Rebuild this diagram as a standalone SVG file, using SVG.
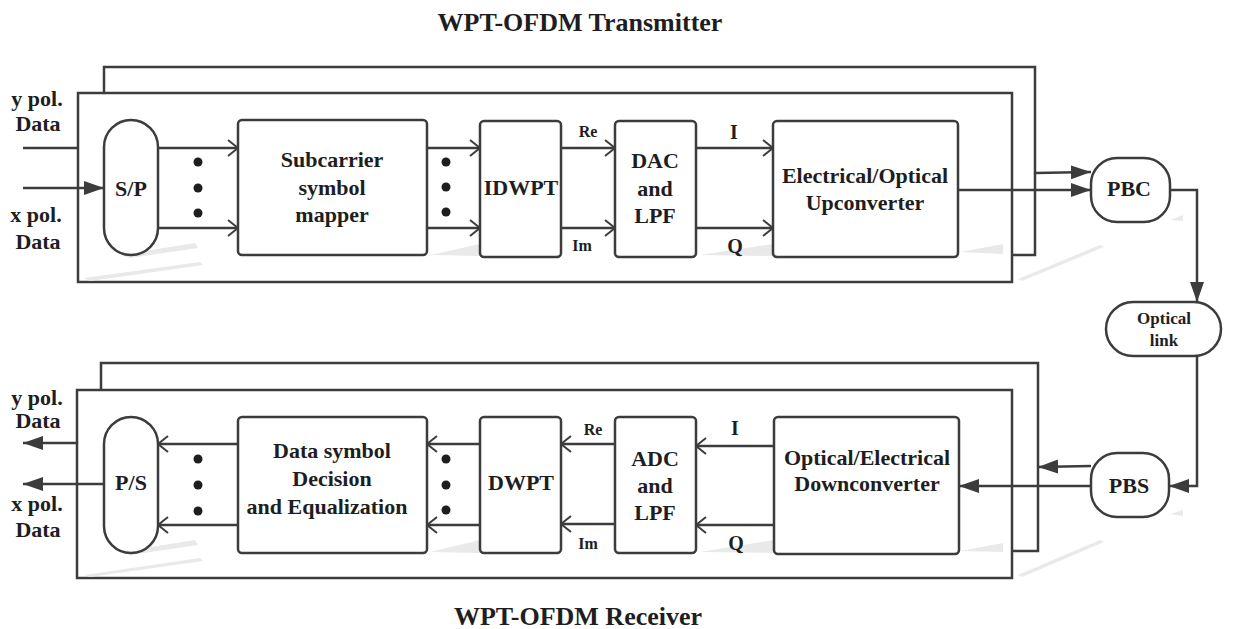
<svg xmlns="http://www.w3.org/2000/svg" width="1234" height="629" viewBox="0 0 1234 629">
<style>
.ln{fill:none;stroke:#3c3c3c;stroke-width:2.5}
.box{fill:#fff;stroke:#3c3c3c;stroke-width:2.5}
.sh{fill:#e9e9e9;stroke:none}
text{font-family:"Liberation Serif","Times New Roman",serif;font-weight:bold;fill:#1e1e1e;text-anchor:middle;dominant-baseline:central}
.t22{font-size:22px}
.t20{font-size:20px}
.t17{font-size:17px}
.t16{font-size:16px}
.t26{font-size:26px}
</style>
<defs>
<marker id="fa" markerUnits="userSpaceOnUse" markerWidth="22" markerHeight="16" refX="20" refY="7" orient="auto"><path d="M0,0 L20,7 L0,14 z" fill="#3c3c3c"/></marker>
<marker id="oa" markerUnits="userSpaceOnUse" markerWidth="14" markerHeight="20" refX="11" refY="9" orient="auto"><path d="M1,1 L11,9 L1,17" fill="none" stroke="#3c3c3c" stroke-width="2"/></marker>
</defs>
<rect width="1234" height="629" fill="#fff"/>

<text class="t26" x="580" y="22">WPT-OFDM Transmitter</text>
<text class="t26" x="578" y="616">WPT-OFDM Receiver</text>

<g id="tx-frames">
<path class="ln" d="M1012,255 L1035,255 L1035,67 L104,67 L104,93"/>
<rect class="box" x="78" y="93" width="934" height="189"/>
<path class="sh" d="M84,278 L200,262 L203,265 L90,281 z"/>
<path class="sh" d="M1018,279 L1100,245 L1104,247 L1022,281 z"/>
</g>
<g id="rx-frames">
<path class="ln" d="M1012,551 L1038,551 L1038,363 L101,363 L101,390"/>
<rect class="box" x="77" y="390" width="935" height="188"/>
<path class="sh" d="M84,575 L200,558 L203,561 L90,577 z"/>
<path class="sh" d="M1018,575 L1100,540 L1104,542 L1022,577 z"/>
</g>

<g id="shadows">
<path class="sh" d="M120,255 L195,243 L198,248 L130,258 z"/>
<path class="sh" d="M430,255 L480,244 L480,256 z"/>
<path class="sh" d="M700,255 L773,244 L773,256 z"/>
<path class="sh" d="M960,252 L1003,244 L1003,254 z"/>
<path class="sh" d="M1170,220 L1183,215 L1183,221 z"/>
<path class="sh" d="M120,552 L195,540 L198,545 L130,555 z"/>
<path class="sh" d="M430,552 L480,540 L480,553 z"/>
<path class="sh" d="M700,552 L774,540 L774,553 z"/>
<path class="sh" d="M960,551 L1003,543 L1003,552 z"/>
<path class="sh" d="M1170,514 L1183,510 L1183,516 z"/>
</g>

<g id="connectors">
<line class="ln" x1="23" y1="148" x2="78" y2="148"/>
<line class="ln" x1="23" y1="188" x2="104" y2="188" marker-end="url(#fa)"/>
<line class="ln" x1="158" y1="148" x2="238" y2="148" marker-end="url(#oa)"/>
<line class="ln" x1="158" y1="228" x2="238" y2="228" marker-end="url(#oa)"/>
<line class="ln" x1="427" y1="148" x2="480" y2="148" marker-end="url(#oa)"/>
<line class="ln" x1="427" y1="228" x2="480" y2="228" marker-end="url(#oa)"/>
<line class="ln" x1="561" y1="148" x2="615" y2="148" marker-end="url(#oa)"/>
<line class="ln" x1="561" y1="228" x2="615" y2="228" marker-end="url(#oa)"/>
<line class="ln" x1="696" y1="148" x2="773" y2="148" marker-end="url(#oa)"/>
<line class="ln" x1="696" y1="228" x2="773" y2="228" marker-end="url(#oa)"/>
<line class="ln" x1="958" y1="190" x2="1091" y2="190" marker-end="url(#fa)"/>
<line class="ln" x1="1035" y1="173" x2="1091" y2="172" marker-end="url(#fa)"/>
<path class="ln" d="M1170,190 L1197,190 L1197,302" marker-end="url(#fa)"/>
<path class="ln" d="M1197,356 L1197,486 L1169,486" marker-end="url(#fa)"/>
<line class="ln" x1="1091" y1="486" x2="959" y2="486" marker-end="url(#fa)"/>
<line class="ln" x1="1091" y1="466" x2="1038" y2="467" marker-end="url(#fa)"/>
<line class="ln" x1="774" y1="446" x2="696" y2="446" marker-end="url(#oa)"/>
<line class="ln" x1="774" y1="525" x2="696" y2="525" marker-end="url(#oa)"/>
<line class="ln" x1="615" y1="444" x2="561" y2="444" marker-end="url(#oa)"/>
<line class="ln" x1="615" y1="524" x2="561" y2="524" marker-end="url(#oa)"/>
<line class="ln" x1="480" y1="444" x2="427" y2="444" marker-end="url(#oa)"/>
<line class="ln" x1="480" y1="525" x2="427" y2="525" marker-end="url(#oa)"/>
<line class="ln" x1="238" y1="444" x2="158" y2="444" marker-end="url(#oa)"/>
<line class="ln" x1="238" y1="525" x2="158" y2="525" marker-end="url(#oa)"/>
<line class="ln" x1="77" y1="443" x2="23" y2="443" marker-end="url(#fa)"/>
<line class="ln" x1="104" y1="484" x2="23" y2="484" marker-end="url(#fa)"/>
</g>

<g id="dots" fill="#1e1e1e">
<circle cx="198" cy="162" r="4.5"/><circle cx="198" cy="188" r="4.5"/><circle cx="198" cy="213" r="4.5"/>
<circle cx="446" cy="162" r="4.5"/><circle cx="446" cy="187" r="4.5"/><circle cx="446" cy="212" r="4.5"/>
<circle cx="198" cy="459" r="4.5"/><circle cx="198" cy="485" r="4.5"/><circle cx="198" cy="511" r="4.5"/>
<circle cx="446" cy="459" r="4.5"/><circle cx="446" cy="485" r="4.5"/><circle cx="446" cy="510" r="4.5"/>
</g>

<g id="labels">
<text class="t22" x="37" y="98">y pol.</text>
<text class="t22" x="38" y="123">Data</text>
<text class="t22" x="36" y="214">x pol.</text>
<text class="t22" x="38" y="241">Data</text>
<text class="t22" x="37" y="397">y pol.</text>
<text class="t22" x="38" y="420">Data</text>
<text class="t22" x="37" y="503">x pol.</text>
<text class="t22" x="38" y="529">Data</text>
<text class="t16" x="588" y="131">Re</text>
<text class="t16" x="582" y="245">Im</text>
<text class="t20" x="734" y="132">I</text>
<text class="t20" x="735" y="246">Q</text>
<text class="t16" x="593" y="429">Re</text>
<text class="t16" x="588" y="543">Im</text>
<text class="t20" x="735" y="428">I</text>
<text class="t20" x="736" y="543">Q</text>
</g>

<g id="sp"><rect class="box" x="104" y="120" width="54" height="135" rx="27" ry="27"/><text class="t22" x="131" y="188">S/P</text></g>
<g id="mapper"><rect class="box" x="238" y="120" width="189" height="135" rx="4"/><text class="t22" x="332" y="159">Subcarrier</text><text class="t22" x="332" y="187">symbol</text><text class="t22" x="332" y="214">mapper</text></g>
<g id="idwpt"><rect class="box" x="480" y="121" width="81" height="136" rx="4"/><text class="t22" x="521" y="187">IDWPT</text></g>
<g id="dac"><rect class="box" x="615" y="121" width="81" height="136" rx="4"/><text class="t22" x="655" y="160">DAC</text><text class="t22" x="655" y="188">and</text><text class="t22" x="655" y="215">LPF</text></g>
<g id="eo"><rect class="box" x="773" y="121" width="185" height="136" rx="4"/><text class="t22" x="865" y="175">Electrical/Optical</text><text class="t22" x="865" y="202">Upconverter</text></g>
<g id="pbc"><rect class="box" x="1091" y="158" width="79" height="64" rx="26" ry="26"/><text class="t22" x="1129" y="188">PBC</text></g>
<g id="optlink"><rect class="box" x="1106" y="302" width="115" height="54" rx="27" ry="27"/><text class="t17" x="1164" y="318">Optical</text><text class="t17" x="1164" y="340">link</text></g>

<g id="ps"><rect class="box" x="104" y="417" width="54" height="136" rx="27" ry="27"/><text class="t22" x="131" y="482">P/S</text></g>
<g id="decision"><rect class="box" x="238" y="417" width="189" height="136" rx="4"/><text class="t22" x="332" y="450">Data symbol</text><text class="t22" x="332" y="478">Decision</text><text class="t22" x="327" y="506">and Equalization</text></g>
<g id="dwpt"><rect class="box" x="480" y="417" width="81" height="136" rx="4"/><text class="t22" x="521" y="482">DWPT</text></g>
<g id="adc"><rect class="box" x="615" y="417" width="81" height="136" rx="4"/><text class="t22" x="655" y="458">ADC</text><text class="t22" x="655" y="485">and</text><text class="t22" x="655" y="512">LPF</text></g>
<g id="oe"><rect class="box" x="774" y="417" width="185" height="137" rx="4"/><text class="t22" x="867" y="457">Optical/Electrical</text><text class="t22" x="867" y="483">Downconverter</text></g>
<g id="pbs"><rect class="box" x="1091" y="453" width="78" height="64" rx="26" ry="26"/><text class="t22" x="1129" y="485">PBS</text></g>
</svg>
